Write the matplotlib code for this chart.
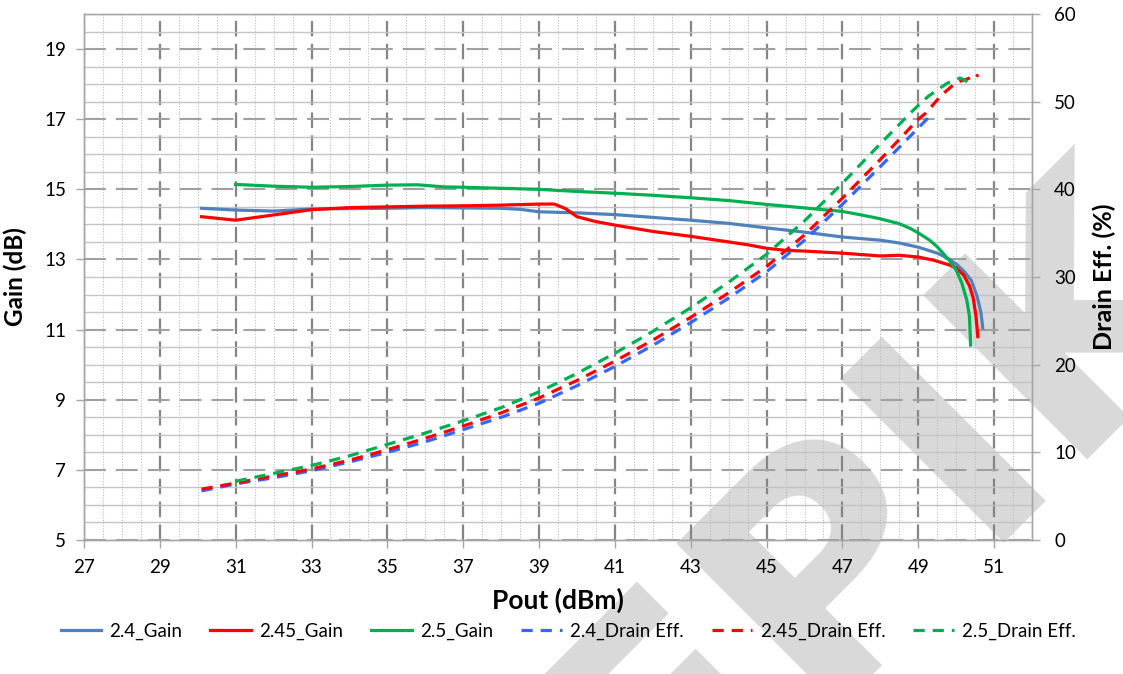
import numpy as np
import matplotlib.pyplot as plt
from matplotlib.ticker import MultipleLocator

plt.rcParams['font.family'] = ['Lato', 'DejaVu Sans']

# gain curves (left axis)
pout_g24 = [30.1, 31, 32, 33, 34, 35, 36, 37, 38, 38.5, 39, 40, 41, 42, 43, 44, 45, 46, 47, 48, 48.5, 49, 49.5, 49.8, 50.0, 50.2, 50.4, 50.55, 50.65, 50.7]
gain_24 = [14.46, 14.41, 14.38, 14.44, 14.45, 14.46, 14.48, 14.47, 14.46, 14.43, 14.36, 14.33, 14.28, 14.2, 14.12, 14.03, 13.9, 13.78, 13.64, 13.55, 13.47, 13.35, 13.18, 13.02, 12.87, 12.67, 12.4, 11.95, 11.5, 11.05]

pout_g245 = [30.1, 31, 32, 33, 34, 35, 36, 37, 38, 39, 39.4, 39.7, 40, 40.5, 41, 42, 43, 44, 44.5, 45, 45.5, 46, 47, 48, 48.5, 49, 49.4, 49.8, 50.0, 50.2, 50.35, 50.45, 50.52, 50.57]
gain_245 = [14.22, 14.12, 14.27, 14.42, 14.48, 14.5, 14.52, 14.53, 14.55, 14.58, 14.58, 14.45, 14.22, 14.08, 13.98, 13.8, 13.66, 13.5, 13.42, 13.32, 13.26, 13.24, 13.18, 13.1, 13.12, 13.07, 12.98, 12.85, 12.76, 12.55, 12.25, 11.9, 11.4, 10.8]

pout_g25 = [31, 32, 33, 34, 35, 35.8, 36.5, 37, 38, 39, 40, 41, 42, 43, 44, 45, 46, 47, 47.5, 48, 48.5, 48.8, 49, 49.3, 49.5, 49.8, 50.0, 50.15, 50.28, 50.35, 50.38]
gain_25 = [15.14, 15.09, 15.06, 15.08, 15.12, 15.13, 15.07, 15.06, 15.03, 15.0, 14.94, 14.89, 14.83, 14.76, 14.68, 14.57, 14.47, 14.37, 14.27, 14.16, 14.02, 13.88, 13.76, 13.55, 13.36, 13.0, 12.7, 12.32, 11.84, 11.37, 10.56]

# drain efficiency curves (right axis)
pout_e24 = [30.1, 31, 32, 33, 34, 35, 36, 37, 38, 39, 40, 41, 42, 43, 44, 45, 46, 47, 48, 49, 49.36]
eff_24 = [5.6, 6.4, 7.1, 7.9, 8.9, 10.0, 11.2, 12.6, 14.0, 15.6, 17.6, 19.8, 22.2, 24.8, 27.6, 30.6, 34.2, 38.3, 42.6, 47.0, 48.6]

pout_e245 = [30.1, 31, 32, 33, 34, 35, 36, 37, 38, 39, 40, 41, 42, 43, 44, 45, 46, 47, 48, 49, 49.2, 49.6, 50.0, 50.3, 50.4, 50.48, 50.58]
eff_245 = [5.8, 6.5, 7.3, 8.1, 9.1, 10.3, 11.6, 13.0, 14.5, 16.2, 18.2, 20.4, 22.8, 25.4, 28.2, 31.2, 34.8, 39.0, 43.4, 48.0, 48.7, 50.7, 52.2, 52.6, 52.8, 52.6, 53.1]

pout_e25 = [31, 32, 33, 34, 35, 36, 37, 38, 39, 40, 41, 42, 43, 44, 45, 46, 47, 48, 48.86, 49.26, 49.76, 50.1, 50.23, 50.32, 50.41]
eff_25 = [6.7, 7.6, 8.5, 9.6, 10.9, 12.2, 13.6, 15.1, 16.9, 19.0, 21.3, 23.8, 26.5, 29.4, 32.6, 36.4, 40.7, 45.2, 49.0, 50.6, 52.1, 52.7, 52.45, 52.2, 52.55]

fig = plt.figure(figsize=(11.23, 6.74), dpi=100)
ax = fig.add_axes([0.0748, 0.1988, 0.8442, 0.7804])
ax2 = ax.twinx()
ax.set_facecolor('none')

# watermark behind everything
fig.text(0.842, 0.152, 'EPIK', rotation=45, rotation_mode='anchor', fontsize=228,
         fontweight='bold', color='#d9d9d9', ha='center', va='baseline', zorder=-5,
         family='DejaVu Sans')

ax.set_xlim(27, 52)
ax.set_ylim(5, 20)
ax2.set_ylim(0, 60)

ax.set_xticks(np.arange(27, 52, 2))
ax.xaxis.set_minor_locator(MultipleLocator(0.5))
ax.set_yticks(np.arange(5, 20, 2))
ax.yaxis.set_minor_locator(MultipleLocator(0.5))
ax2.set_yticks(np.arange(0, 61, 10))

ax.grid(which='minor', axis='x', color='#bcbcbc', lw=0.8, ls=(0, (1, 1.5)))
ax.grid(which='minor', axis='y', color='#c4c4c4', lw=1.0, ls='-')
ax.grid(which='major', axis='y', color='#a0a0a0', lw=1.5, ls=(0, (10.5, 4.8)))
ax.grid(which='major', axis='x', color='#858585', lw=1.6, ls=(0, (7, 3.3)))
ax.set_axisbelow(True)

ax.plot(pout_g24, gain_24, color='#4f81bd', lw=2.3, label='2.4_Gain', zorder=3)
ax.plot(pout_g245, gain_245, color='#ff0000', lw=2.3, label='2.45_Gain', zorder=3)
ax.plot(pout_g25, gain_25, color='#00b050', lw=2.3, label='2.5_Gain', zorder=3)
dash = (0, (3.5, 2.5))
ax2.plot(pout_e24, eff_24, color='#3366ff', lw=2.3, ls=dash, label='2.4_Drain Eff.')
ax2.plot(pout_e245, eff_245, color='#ff0000', lw=2.3, ls=dash, label='2.45_Drain Eff.')
ax2.plot(pout_e25, eff_25, color='#00b050', lw=2.3, ls=dash, label='2.5_Drain Eff.')

for a in (ax, ax2):
    for s in a.spines.values():
        s.set_color('#a6a6a6')
        s.set_linewidth(1.0)
    a.tick_params(which='major', length=6, width=1, color='#a6a6a6', labelsize=13.5, pad=7)
    a.tick_params(which='minor', length=0)
ax.spines['top'].set_color('#d0d0d0')
ax.tick_params(axis='x', pad=8)
ax2.tick_params(axis='y', pad=10)

ax.set_xlabel('Pout (dBm)', fontsize=19, fontweight='bold', labelpad=8)
ax.set_ylabel('Gain (dB)', fontsize=17.5, fontweight='bold', labelpad=12)
ax2.set_ylabel('Drain Eff. (%)', fontsize=18, fontweight='bold', labelpad=12)

h1, l1 = ax.get_legend_handles_labels()
h2, l2 = ax2.get_legend_handles_labels()
fig.legend(h1 + h2, l1 + l2, loc='center', bbox_to_anchor=(0.506, 0.063), ncol=6,
           frameon=False, fontsize=13.5, handlelength=2.15, columnspacing=1.5,
           handletextpad=0.45)

fig.savefig('out.png', dpi=100)
